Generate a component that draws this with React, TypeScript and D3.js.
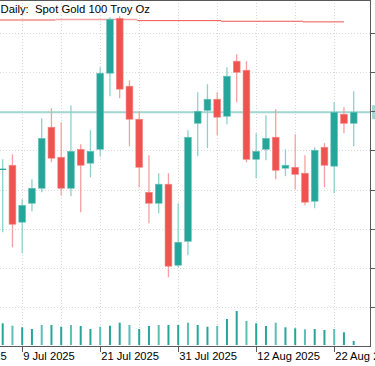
import React, { useEffect } from "react";
import * as d3 from "d3";

const dates = [
  "7 Jul", "8 Jul", "9 Jul", "10 Jul", "11 Jul", "14 Jul", "15 Jul", "16 Jul", "17 Jul", "18 Jul",
  "21 Jul", "22 Jul", "23 Jul", "24 Jul", "25 Jul", "28 Jul", "29 Jul", "30 Jul", "31 Jul", "1 Aug",
  "4 Aug", "5 Aug", "6 Aug", "7 Aug", "8 Aug", "11 Aug", "12 Aug", "13 Aug", "14 Aug", "15 Aug",
  "18 Aug", "19 Aug", "20 Aug", "21 Aug", "22 Aug", "25 Aug", "26 Aug",
];
const opens = [
  3337.9, 3340.5, 3304.1, 3316.2, 3325.8, 3364.8, 3345.6, 3325.8, 3350.7, 3341.8,
  3350.7, 3399.3, 3434.4, 3391.0, 3369.9, 3323.2, 3316.2, 3328.4, 3276.6, 3291.9,
  3367.3, 3375.6, 3382.7, 3371.8, 3407.0, 3401.2, 3344.3, 3350.7, 3358.4, 3338.6,
  3339.2, 3335.4, 3317.5, 3352.0, 3339.9, 3373.1, 3367.3,
];
const highs = [
  3344.3, 3347.5, 3318.8, 3331.5, 3370.5, 3376.9, 3368.0, 3378.8, 3353.9, 3362.9,
  3403.1, 3435.1, 3435.7, 3394.8, 3375.0, 3346.9, 3335.4, 3335.4, 3316.2, 3362.9,
  3387.1, 3392.3, 3387.1, 3403.1, 3411.4, 3407.0, 3360.9, 3372.4, 3376.3, 3350.7,
  3360.3, 3346.9, 3352.0, 3354.6, 3380.8, 3377.6, 3387.8,
];
const lows = [
  3297.7, 3288.1, 3284.3, 3311.1, 3323.2, 3342.4, 3321.3, 3320.7, 3310.5, 3332.8,
  3346.2, 3384.6, 3383.3, 3352.6, 3326.4, 3303.4, 3309.8, 3268.9, 3275.3, 3283.0,
  3346.2, 3351.4, 3359.7, 3366.7, 3380.8, 3342.4, 3332.2, 3343.7, 3331.5, 3333.5,
  3325.2, 3314.9, 3313.0, 3326.4, 3322.6, 3360.9, 3352.6,
];
const closes = [
  3337.9, 3302.8, 3314.9, 3325.8, 3357.7, 3345.0, 3325.8, 3349.4, 3340.5, 3349.4,
  3399.3, 3433.8, 3389.1, 3369.9, 3339.2, 3316.2, 3328.4, 3276.0, 3291.3, 3358.4,
  3375.0, 3382.7, 3371.2, 3397.4, 3399.9, 3344.3, 3349.4, 3357.7, 3337.3, 3340.5,
  3334.7, 3316.9, 3350.1, 3340.5, 3374.4, 3367.3, 3374.4,
];
const volumes = [
  217, 193, 177, 160, 200, 200, 183, 200, 190, 160,
  183, 193, 223, 200, 160, 190, 200, 200, 200, 223,
  200, 183, 190, 260, 340, 240, 217, 190, 223, 177,
  167, 157, 160, 150, 160, 127, 40,
];
const priceTicks = [3250, 3275, 3300, 3325, 3350, 3375, 3400, 3425];
const timeTickIndex = [-6, 2, 10, 18, 26, 34];
const timeTickLabels = ["27 Jun 2025", "9 Jul 2025", "21 Jul 2025", "31 Jul 2025", "12 Aug 2025", "22 Aug 2025"];
const redLineBreaks = [-0.3, 5.4, 13.8, 22.4, 30.8, 35];
const redLineLevels = [3433.3, 3433.6, 3432.9, 3432.5, 3432.1];
const title = "Daily:  Spot Gold 100 Troy Oz";

const W = 375;
const H = 366;
const plotRight = 370;
const plotBottom = 346;
const UP = "#26a69a";
const DOWN = "#ef5350";
const UP_WICK = "#8ed1ca";
const DOWN_WICK = "#f6a09f";

export default function App() {
  useEffect(() => {
    document.body.style.margin = "0";
  }, []);

  const x = d3.scaleLinear().domain([0, 36]).range([2.7, 353.7]);
  const y = d3.scaleLinear().domain([3225, 3425]).range([plotBottom, 33]);
  const v = d3.scaleLinear().domain([0, 400]).range([345, 305]);
  const gridIdx = d3.range(2, 37, 4);
  const bodyW = 6.8;
  const font = "'Liberation Sans', Arial, sans-serif";
  const last = closes[closes.length - 1];

  return (
    <svg width={W} height={H} style={{ position: "absolute", left: 0, top: 0, background: "#fff" }}>
      <rect x={0} y={0} width={W} height={H} fill="#fff" />
      {/* grid */}
      {priceTicks.map((p) => (
        <line key={"h" + p} x1={0} x2={plotRight} y1={Math.round(y(p)) + 0.5} y2={Math.round(y(p)) + 0.5}
          stroke="#d9d9d9" strokeDasharray="1,2" />
      ))}
      {gridIdx.map((i) => (
        <line key={"v" + i} x1={Math.round(x(i)) + 0.5} x2={Math.round(x(i)) + 0.5} y1={0} y2={plotBottom}
          stroke="#d9d9d9" strokeDasharray="1,2" />
      ))}
      {/* current price line */}
      <line x1={0} x2={plotRight} y1={y(last)} y2={y(last)} stroke="#a3d8d2" strokeWidth={2} />
      <rect x={372} y={y(last) - 7} width={3} height={14} fill="#a3d8d2" />
      {/* red level line */}
      {redLineLevels.map((lv, k) => (
        <line key={"r" + k} x1={Math.max(0, x(redLineBreaks[k]))} x2={x(redLineBreaks[k + 1])}
          y1={y(lv)} y2={y(lv)} stroke={k === 1 ? "#f7a3a3" : "#ef5350"} strokeWidth={k === 1 ? 1.6 : 1} />
      ))}
      {/* volumes */}
      {volumes.map((vol, i) => (
        <rect key={"vol" + i} x={x(i) - 1} y={v(vol)} width={2} height={345 - v(vol)}
          fill={i % 3 === 1 ? "#5cbfb5" : UP} />
      ))}
      {/* candles */}
      {dates.map((d, i) => {
        const o = opens[i], c = closes[i];
        const up = c >= o;
        const top = y(Math.max(o, c));
        const bot = y(Math.min(o, c));
        const cx = x(i);
        return (
          <g key={d}>
            <line x1={cx} x2={cx} y1={y(highs[i])} y2={y(lows[i])} stroke={up ? UP_WICK : DOWN_WICK} strokeWidth={1.3} />
            {bot - top < 1.2 ? (
              <line x1={cx - bodyW / 2} x2={cx + bodyW / 2} y1={top} y2={top} stroke={up ? UP : DOWN} strokeWidth={1.3} />
            ) : (
              <rect x={cx - bodyW / 2} y={top} width={bodyW} height={bot - top} fill={up ? UP : DOWN}
                stroke={up ? "#6cc4ba" : "#f48886"} strokeWidth={0.6} />
            )}
          </g>
        );
      })}
      {/* borders */}
      <line x1={0} x2={plotRight} y1={0.5} y2={0.5} stroke="#5a5a5a" />
      <line x1={plotRight + 0.5} x2={plotRight + 0.5} y1={0} y2={plotBottom + 0.5} stroke="#5a5a5a" />
      <line x1={0} x2={plotRight + 1} y1={plotBottom + 0.5} y2={plotBottom + 0.5} stroke="#5a5a5a" />
      {priceTicks.map((p) => (
        <line key={"pt" + p} x1={plotRight} x2={W} y1={Math.round(y(p)) + 0.5} y2={Math.round(y(p)) + 0.5} stroke="#5a5a5a" />
      ))}
      {/* time axis */}
      {timeTickIndex.map((ti, k) => (
        <g key={"t" + ti}>
          <line x1={Math.round(x(ti)) + 0.5} x2={Math.round(x(ti)) + 0.5} y1={plotBottom} y2={plotBottom + 6} stroke="#5a5a5a" />
          <text x={x(ti) + 1} y={360} fontFamily={font} fontSize={11.2} fill="#000">{timeTickLabels[k]}</text>
        </g>
      ))}
      {/* title */}
      <text x={0.5} y={13} fontFamily={font} fontSize={11.3} fill="#000" style={{ whiteSpace: "pre" }}>{title}</text>
    </svg>
  );
}
